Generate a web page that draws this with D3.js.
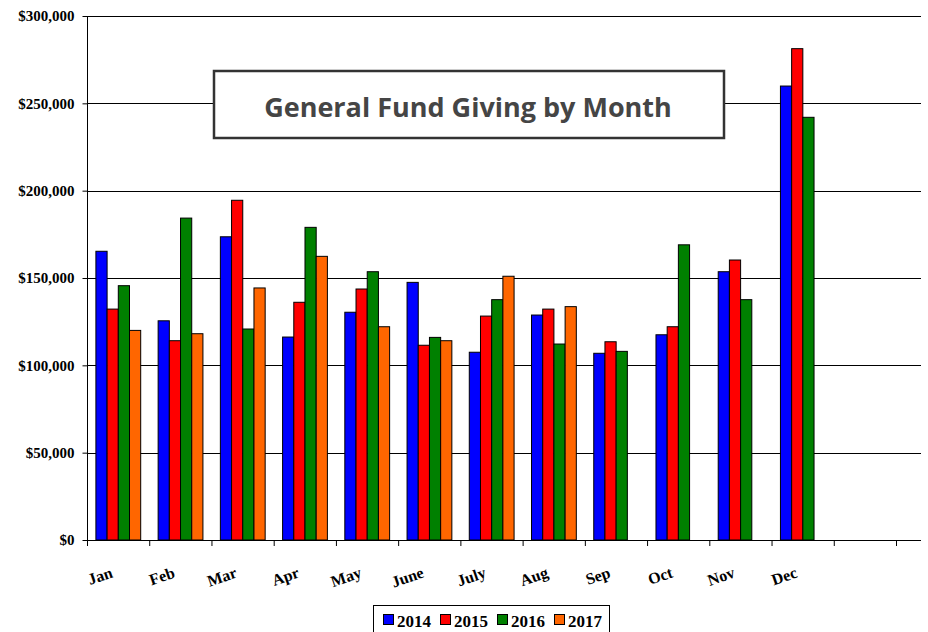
<!DOCTYPE html>
<html><head><meta charset="utf-8">
<script src="https://cdn.jsdelivr.net/npm/d3@7"></script>
<style>html,body{margin:0;padding:0;background:#fff;}svg{display:block;}</style>
</head><body>
<svg id="chart" width="928" height="632"></svg>
<script>
const months = ["Jan","Feb","Mar","Apr","May","June","July","Aug","Sep","Oct","Nov","Dec"];
const series = ["2014","2015","2016","2017"];
const colors = ["#0000FF","#FF0000","#008000","#FF6600"];
const v2014 = [165300,125500,173600,116200,130400,147500,107500,128800,106900,117500,153600,259900];
const v2015 = [132200,114100,194500,136100,143700,111500,128200,132200,113500,122100,160300,281300];
const v2016 = [145600,184300,120800,179000,153600,116000,137600,112200,108000,169000,137600,242000];
const v2017 = [120000,118100,144300,162400,122100,114100,151000,133600,null,null,null,null];
const yTicks = [0,50000,100000,150000,200000,250000,300000];
const title = "General Fund Giving by Month";

(function(){
const values = [v2014,v2015,v2016,v2017];
const svg = d3.select("#chart");
const pL = 87.5, pR = 921, pT = 16, pB = 540;

const x = d3.scaleBand().domain([...months, "_blank"]).range([pL, 896.5]);
const xs = d3.scaleBand().domain(series).range([8.4, 53.2]);
const y = d3.scaleLinear().domain([0,300000]).range([pB, pT]);

// gridlines
svg.append("g").selectAll("line").data(yTicks).join("line")
  .attr("x1", pL).attr("x2", pR)
  .attr("y1", d => Math.round(y(d)) + 0.5).attr("y2", d => Math.round(y(d)) + 0.5)
  .attr("stroke", "#000").attr("stroke-width", 1);

// bars
const barData = [];
series.forEach((s, si) => months.forEach((m, mi) => {
  const v = values[si][mi];
  if (v != null) barData.push({s, m, v, c: colors[si]});
}));
svg.append("g").selectAll("rect").data(barData).join("rect")
  .attr("x", d => x(d.m) + xs(d.s))
  .attr("width", xs.bandwidth())
  .attr("y", d => y(d.v))
  .attr("height", d => y(0) - y(d.v))
  .attr("fill", d => d.c)
  .attr("stroke", "#000").attr("stroke-width", 1);

// y axis
const yAxis = d3.axisLeft(y).tickValues(yTicks).tickSize(5).tickPadding(8)
  .tickFormat(d => "$" + d3.format(",")(d));
const gy = svg.append("g").attr("transform", `translate(${pL},0)`).call(yAxis);
gy.select(".domain").attr("stroke", "#000").attr("d", `M0,${pT}V${pB}`);
gy.selectAll("text").attr("font-family", "'Liberation Serif','Times New Roman',serif")
  .attr("font-weight", "bold").attr("font-size", "15px").attr("fill", "#000");

// x axis line and ticks
svg.append("line").attr("x1", pL).attr("x2", pR).attr("y1", pB + 0.5).attr("y2", pB + 0.5)
  .attr("stroke", "#000");
const tickPos = [...x.domain().map(d => x(d)), x.range()[1]];
svg.append("g").selectAll("line").data(tickPos).join("line")
  .attr("x1", d => d).attr("x2", d => d).attr("y1", pB).attr("y2", pB + 6)
  .attr("stroke", "#000");
svg.append("g").selectAll("text").data(months).join("text")
  .attr("transform", d => `translate(${x(d) + x.bandwidth()/2 - 5},577) rotate(-19)`)
  .attr("text-anchor", "end")
  .attr("font-family", "'Liberation Serif','Times New Roman',serif")
  .attr("font-weight", "bold").attr("font-size", "16px")
  .text(d => d);

// title box
const tb = svg.append("g");
tb.append("rect").attr("x", 214).attr("y", 71).attr("width", 510).attr("height", 67)
  .attr("fill", "#fff").attr("stroke", "#333").attr("stroke-width", 2.5);
tb.append("text").attr("x", 468).attr("y", 117).attr("text-anchor", "middle")
  .attr("font-family", "'Open Sans',sans-serif").attr("font-weight", "bold")
  .attr("font-size", "27px").attr("fill", "#454545").text(title);

// legend
const lg = svg.append("g");
lg.append("rect").attr("x", 373.5).attr("y", 605.5).attr("width", 236).attr("height", 40)
  .attr("fill", "#fff").attr("stroke", "#000");
series.forEach((s, i) => {
  const gx = 383 + i * 57;
  lg.append("rect").attr("x", gx + 0.5).attr("y", 614.5).attr("width", 10).attr("height", 10)
    .attr("fill", colors[i]).attr("stroke", "#000");
  lg.append("text").attr("x", gx + 14).attr("y", 627)
    .attr("font-family", "'Liberation Serif','Times New Roman',serif")
    .attr("font-weight", "bold").attr("font-size", "17px").text(s);
});
})();
</script>
</body></html>
